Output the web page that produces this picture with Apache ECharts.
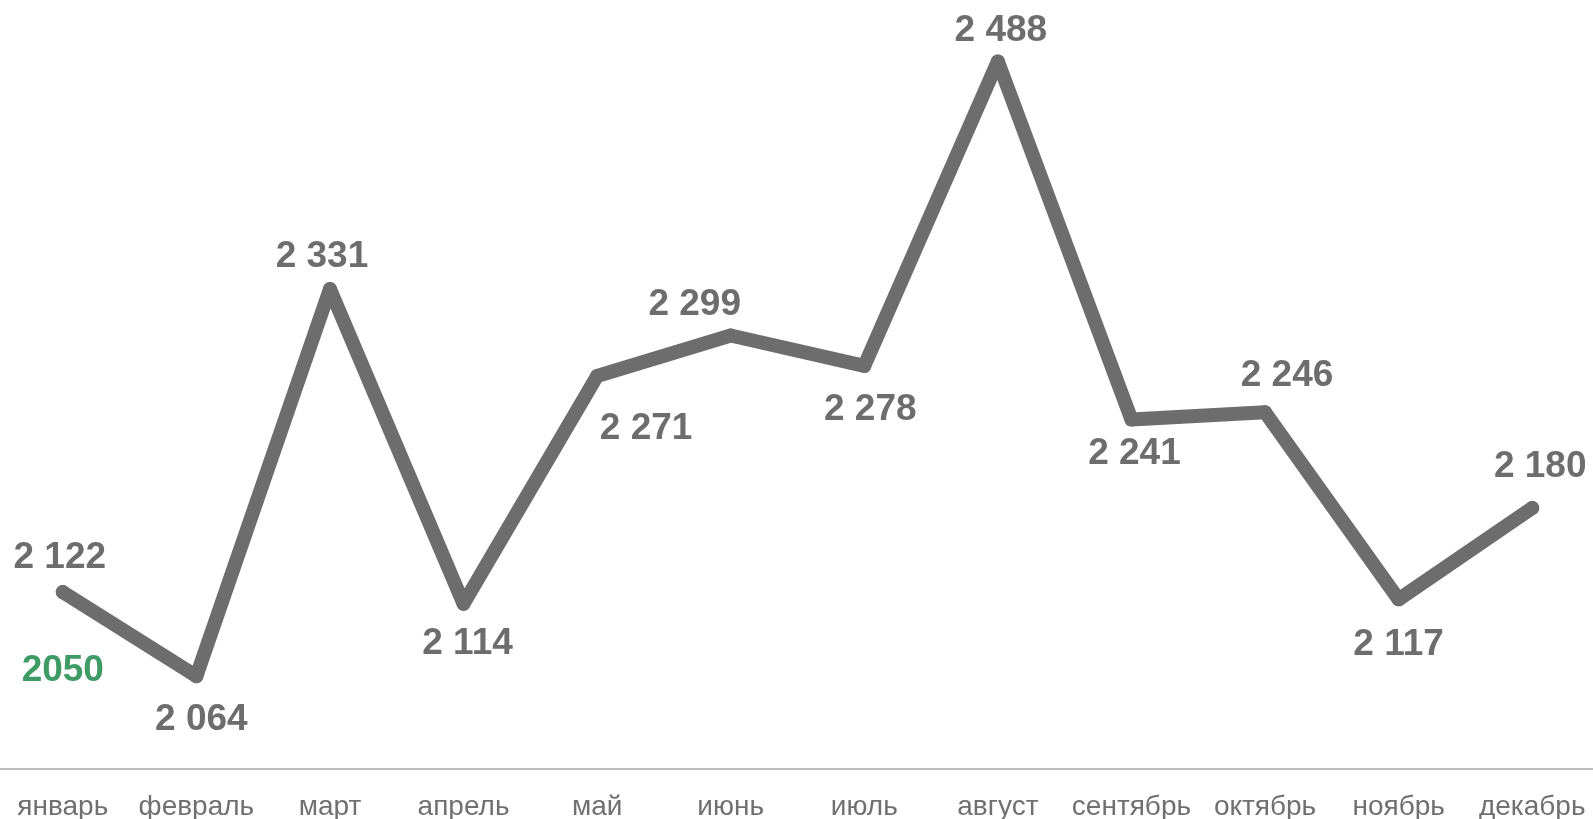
<!DOCTYPE html>
<html><head><meta charset="utf-8">
<script src="https://cdn.jsdelivr.net/npm/echarts@6/dist/echarts.min.js"></script>
<style>html,body{margin:0;padding:0;background:#fff}#c{width:1593px;height:819px}</style>
</head><body><div id="c"></div>
<script>
const months = ['январь','февраль','март','апрель','май','июнь','июль','август','сентябрь','октябрь','ноябрь','декабрь'];
const values = [2122, 2064, 2331, 2114, 2271, 2299, 2278, 2488, 2241, 2246, 2117, 2180];
const extraLabelValue = 2050;

const labelOffsets = [[-3,-34],[5,44],[-8,-32],[4,40],[49,53],[-36,-31],[6,44],[3,-31],[3,34],[22,-37],[0,45],[8,-41]];
const fmt = v => String(v).replace(/\B(?=(\d{3})+(?!\d))/g, ' ');
const gray = '#6d6d6d';

const chart = echarts.init(document.getElementById('c'));
chart.setOption({
  animation: false,
  grid: {left: -4, right: -6, top: 44, bottom: 50, outerBoundsMode: 'none', containLabel: false},
  xAxis: {
    type: 'category', data: months, boundaryGap: true,
    axisLine: {lineStyle: {color: '#a6a6a6', width: 1.5}},
    axisTick: {show: false},
    axisLabel: {color: '#707070', fontSize: 28, fontFamily: 'Liberation Sans, Arial', margin: 24, interval: 0}
  },
  yAxis: {type: 'value', min: 2000, max: 2500, show: false, splitLine: {show: false}},
  series: [{
    type: 'line',
    data: values.map((v, i) => ({
      value: v,
      label: {offset: labelOffsets[i]}
    })),
    symbol: 'circle', symbolSize: 14, showSymbol: true,
    itemStyle: {color: gray},
    lineStyle: {color: gray, width: 14, cap: 'round', join: 'round'},
    label: {
      show: true, position: 'inside', align: 'center', verticalAlign: 'middle',
      formatter: p => fmt(p.value),
      color: gray, fontSize: 37, fontWeight: 'bold', fontFamily: 'Liberation Sans, Arial'
    },
    markPoint: {
      symbol: 'circle', symbolSize: 0,
      data: [{coord: [0, values[0]], value: extraLabelValue}],
      label: {
        show: true, position: 'inside', offset: [0, 79],
        formatter: p => String(p.value),
        color: '#3f9b65', fontSize: 37, fontWeight: 'bold', fontFamily: 'Liberation Sans, Arial'
      }
    }
  }]
});
</script></body></html>
